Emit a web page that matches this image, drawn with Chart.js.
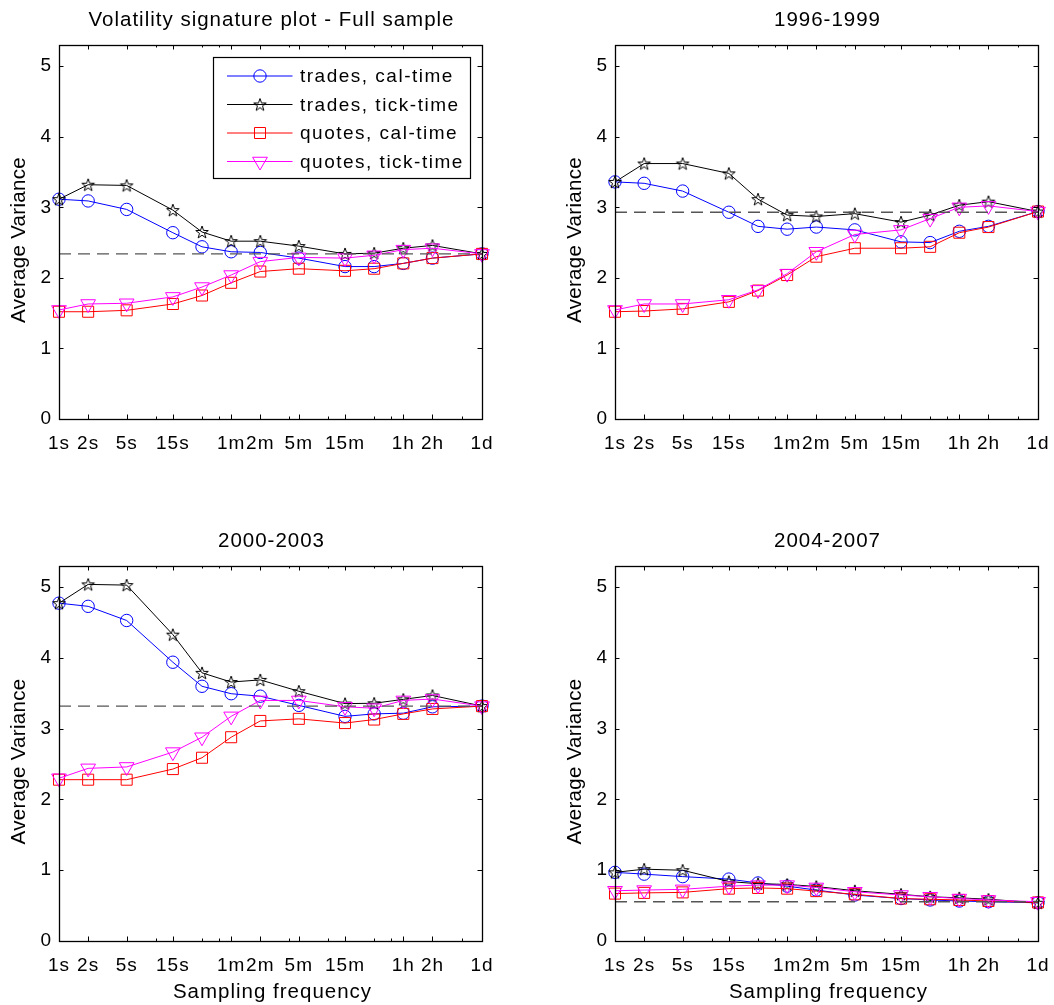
<!DOCTYPE html>
<html><head><meta charset="utf-8">
<script src="https://cdn.jsdelivr.net/npm/chart.js@4.4.1/dist/chart.umd.min.js"></script>
<style>
html,body{margin:0;padding:0;background:#fff;}
body{width:1054px;height:1005px;position:relative;overflow:hidden;}
canvas{position:absolute;}
</style></head><body>
<canvas id="c0" width="527" height="500" style="left:0;top:0"></canvas>
<canvas id="c1" width="527" height="500" style="left:527px;top:0"></canvas>
<canvas id="c2" width="527" height="505" style="left:0;top:500px"></canvas>
<canvas id="c3" width="527" height="505" style="left:527px;top:500px"></canvas>
<script>
// ---- data ----
const samplingSeconds = [1, 2, 5, 15, 30, 60, 120, 300, 900, 1800, 3600, 7200, 23400];
const tickSeconds = [1, 2, 5, 10, 15, 30, 45, 60, 120, 240, 300, 600, 900, 1800, 2700, 3600, 7200, 14400, 23400];
const tickLabels = ['1s', '2s', '5s', '', '15s', '', '', '1m', '2m', '', '5m', '', '15m', '', '', '1h', '2h', '', '1d'];
const yTickValues = [0, 1, 2, 3, 4, 5];
const panelTitles = ['Volatility signature plot - Full sample', '1996-1999', '2000-2003', '2004-2007'];
const seriesNames = ['trades, cal-time', 'trades, tick-time', 'quotes, cal-time', 'quotes, tick-time'];

const full_tradesCal  = [3.115, 3.09, 2.97, 2.64, 2.44, 2.37, 2.36, 2.28, 2.16, 2.16, 2.205, 2.28, 2.34];
const full_tradesTick = [3.115, 3.32, 3.31, 2.96, 2.65, 2.52, 2.52, 2.45, 2.34, 2.35, 2.42, 2.46, 2.34];
const full_quotesCal  = [1.52, 1.52, 1.54, 1.63, 1.75, 1.93, 2.09, 2.13, 2.10, 2.13, 2.205, 2.28, 2.34];
const full_quotesTick = [1.545, 1.63, 1.64, 1.73, 1.87, 2.04, 2.23, 2.29, 2.28, 2.32, 2.40, 2.42, 2.34];

const p9699_tradesCal  = [3.36, 3.34, 3.23, 2.93, 2.73, 2.69, 2.72, 2.68, 2.51, 2.50, 2.66, 2.73, 2.94];
const p9699_tradesTick = [3.36, 3.62, 3.62, 3.48, 3.115, 2.89, 2.87, 2.91, 2.79, 2.89, 3.03, 3.08, 2.94];
const p9699_quotesCal  = [1.52, 1.53, 1.56, 1.66, 1.82, 2.04, 2.30, 2.42, 2.42, 2.44, 2.64, 2.72, 2.94];
const p9699_quotesTick = [1.545, 1.63, 1.63, 1.69, 1.83, 2.06, 2.37, 2.615, 2.68, 2.84, 3.00, 3.02, 2.94];

const p0003_tradesCal  = [4.775, 4.73, 4.53, 3.94, 3.60, 3.495, 3.46, 3.33, 3.175, 3.21, 3.22, 3.31, 3.32];
const p0003_tradesTick = [4.775, 5.04, 5.03, 4.33, 3.79, 3.66, 3.69, 3.53, 3.355, 3.36, 3.415, 3.47, 3.32];
const p0003_quotesCal  = [2.28, 2.28, 2.28, 2.43, 2.59, 2.88, 3.11, 3.14, 3.08, 3.13, 3.21, 3.28, 3.32];
const p0003_quotesTick = [2.30, 2.44, 2.46, 2.67, 2.88, 3.175, 3.40, 3.40, 3.31, 3.29, 3.40, 3.42, 3.32];

const p0407_tradesCal  = [0.97, 0.945, 0.91, 0.875, 0.82, 0.775, 0.72, 0.65, 0.60, 0.58, 0.565, 0.555, 0.54];
const p0407_tradesTick = [0.97, 1.015, 1.00, 0.84, 0.81, 0.80, 0.77, 0.71, 0.66, 0.625, 0.61, 0.59, 0.54];
const p0407_quotesCal  = [0.67, 0.68, 0.687, 0.74, 0.75, 0.74, 0.705, 0.66, 0.60, 0.59, 0.58, 0.565, 0.545];
const p0407_quotesTick = [0.71, 0.72, 0.73, 0.775, 0.79, 0.79, 0.757, 0.696, 0.65, 0.625, 0.60, 0.58, 0.555];

const dailyLevels = [2.34, 2.93, 3.32, 0.555];

// ---- styling ----
const FONT = '"Liberation Sans", Arial, Helvetica, sans-serif';
Chart.defaults.font.family = FONT;
Chart.defaults.color = '#000';
const LETTER = '1px';

function makeStar(R, color) {
  const s = 18;
  const c = document.createElement('canvas');
  c.width = s; c.height = s;
  const g = c.getContext('2d');
  g.strokeStyle = color; g.lineWidth = 1; g.lineJoin = 'miter';
  g.beginPath();
  const cx = s / 2, cy = s / 2 + 0.6;
  for (let k = 0; k < 10; k++) {
    const r = k % 2 === 0 ? R : R * 0.4;
    const a = -Math.PI / 2 + k * Math.PI / 5;
    const px = cx + r * Math.cos(a), py = cy + r * Math.sin(a);
    if (k) g.lineTo(px, py); else g.moveTo(px, py);
  }
  g.closePath(); g.stroke();
  return c;
}
const starImg = makeStar(6.6, '#000');

const seriesStyles = [
  {color: '#0000ff', pointStyle: 'circle', radius: 6.2, rotation: 0},
  {color: '#000000', pointStyle: starImg, radius: 7, rotation: 0},
  {color: '#ff0000', pointStyle: 'rect', radius: 7.8, rotation: 0},
  {color: '#ff00ff', pointStyle: 'triangle', radius: 8.5, rotation: 180}
];

const panels = [
  {id: 'c0', series: [full_tradesCal, full_tradesTick, full_quotesCal, full_quotesTick], pad: {left: 9, right: 45, top: 45, bottom: 41}, legend: true, xlabel: false},
  {id: 'c1', series: [p9699_tradesCal, p9699_tradesTick, p9699_quotesCal, p9699_quotesTick], pad: {left: 38, right: 16, top: 45, bottom: 41}, legend: false, xlabel: false},
  {id: 'c2', series: [p0003_tradesCal, p0003_tradesTick, p0003_quotesCal, p0003_quotesTick], pad: {left: 9, right: 45, top: 66, bottom: 24}, legend: false, xlabel: true},
  {id: 'c3', series: [p0407_tradesCal, p0407_tradesTick, p0407_quotesCal, p0407_quotesTick], pad: {left: 38, right: 16, top: 66, bottom: 24}, legend: false, xlabel: true}
];

function drawMarker(ctx, st, x, y) {
  ctx.save();
  ctx.strokeStyle = st.color; ctx.lineWidth = 1;
  if (typeof st.pointStyle === 'object') {
    ctx.drawImage(st.pointStyle, x - st.pointStyle.width / 2, y - st.pointStyle.height / 2);
  } else {
    ctx.beginPath();
    if (st.pointStyle === 'circle') {
      ctx.arc(x, y, st.radius, 0, Math.PI * 2);
    } else if (st.pointStyle === 'rect') {
      const h = st.radius * Math.SQRT1_2;
      ctx.rect(x - h, y - h, 2 * h, 2 * h);
    } else if (st.pointStyle === 'triangle') {
      const r = st.radius;
      ctx.moveTo(x, y + r);
      ctx.lineTo(x - r * Math.sin(Math.PI / 3), y - r / 2);
      ctx.lineTo(x + r * Math.sin(Math.PI / 3), y - r / 2);
      ctx.closePath();
    }
    ctx.stroke();
  }
  ctx.restore();
}

const framePlugin = {
  id: 'matlabFrame',
  beforeDraw(chart) {
    chart.ctx.letterSpacing = LETTER;
  },
  afterDraw(chart, args, opts) {
    const ctx = chart.ctx;
    const a = chart.chartArea;
    const xs = chart.scales.x, ys = chart.scales.y;
    ctx.save();
    ctx.letterSpacing = LETTER;
    // box
    ctx.strokeStyle = '#000';
    ctx.lineWidth = 1.3;
    ctx.strokeRect(Math.round(a.left) + 0.5, Math.round(a.top) + 0.5, Math.round(a.right - a.left), Math.round(a.bottom - a.top));
    // inside tick marks
    ctx.lineWidth = 1;
    ctx.beginPath();
    xs.ticks.forEach((t, i) => {
      const px = Math.round(xs.getPixelForValue(t.value)) + 0.5;
      const len = tickLabels[i] ? 4.5 : 2.5;
      ctx.moveTo(px, a.bottom); ctx.lineTo(px, a.bottom - len);
      ctx.moveTo(px, a.top); ctx.lineTo(px, a.top + len);
    });
    ys.ticks.forEach(t => {
      const py = Math.round(ys.getPixelForValue(t.value)) + 0.5;
      ctx.moveTo(a.left, py); ctx.lineTo(a.left + 4.5, py);
      ctx.moveTo(a.right, py); ctx.lineTo(a.right - 4.5, py);
    });
    ctx.stroke();
    // title
    ctx.fillStyle = '#000';
    ctx.font = '20.5px ' + FONT;
    ctx.textAlign = 'center';
    ctx.textBaseline = 'middle';
    ctx.fillText(opts.title, (a.left + a.right) / 2 + 1, a.top - 24.5);
    // y label
    ctx.save();
    ctx.letterSpacing = '0.3px';
    ctx.translate(a.left - 40, (a.top + a.bottom) / 2 + 8);
    ctx.rotate(-Math.PI / 2);
    ctx.fillText('Average Variance', 0, 0);
    ctx.restore();
    // x label
    if (opts.xlabel) {
      ctx.fillText('Sampling frequency', (a.left + a.right) / 2 + 2, a.bottom + 51);
    }
    // legend
    if (opts.legend) {
      const bw = 257, bh = 121;
      const bx = Math.round(a.right - 12 - bw) + 0.5, by = Math.round(a.top + 12) + 0.5;
      ctx.fillStyle = '#fff';
      ctx.fillRect(bx, by, bw, bh);
      ctx.strokeStyle = '#000';
      ctx.lineWidth = 1.2;
      ctx.strokeRect(bx, by, bw, bh);
      ctx.font = '19px ' + FONT;
      ctx.letterSpacing = '1.5px';
      ctx.textAlign = 'left';
      ctx.textBaseline = 'middle';
      ctx.lineWidth = 1;
      seriesNames.forEach((name, i) => {
        const st = seriesStyles[i];
        const ry = by + 18.5 + i * 28.5;
        ctx.strokeStyle = st.color;
        ctx.beginPath();
        ctx.moveTo(bx + 13.5, ry); ctx.lineTo(bx + 79, ry);
        ctx.stroke();
        drawMarker(ctx, st, bx + 46.5, ry);
        ctx.fillStyle = '#000';
        ctx.fillText(name, bx + 86.5, ry + 1);
      });
    }
    ctx.restore();
  }
};

panels.forEach((p, pi) => {
  const datasets = p.series.map((vals, si) => {
    const st = seriesStyles[si];
    return {
      label: seriesNames[si],
      data: samplingSeconds.map((s, k) => ({x: s, y: vals[k]})),
      borderColor: st.color,
      backgroundColor: 'rgba(0,0,0,0)',
      pointBorderColor: st.color,
      pointBackgroundColor: 'rgba(0,0,0,0)',
      pointStyle: st.pointStyle,
      pointRadius: st.radius,
      pointRotation: st.rotation,
      pointBorderWidth: 1,
      borderWidth: 1,
      tension: 0,
      fill: false,
      clip: false,
      order: 4 - si
    };
  });
  datasets.push({
    label: 'daily',
    data: [{x: samplingSeconds[0], y: dailyLevels[pi]}, {x: samplingSeconds[samplingSeconds.length - 1], y: dailyLevels[pi]}],
    borderColor: '#555555',
    borderWidth: 1.4,
    borderDash: [12, 7],
    pointRadius: 0,
    fill: false,
    clip: false,
    order: 0
  });
  new Chart(document.getElementById(p.id), {
    type: 'line',
    data: {datasets},
    options: {
      responsive: false,
      animation: false,
      events: [],
      layout: {padding: p.pad},
      plugins: {
        legend: {display: false},
        tooltip: {enabled: false},
        title: {display: false},
        matlabFrame: {title: panelTitles[pi], legend: p.legend, xlabel: p.xlabel}
      },
      scales: {
        x: {
          type: 'logarithmic',
          min: samplingSeconds[0],
          max: samplingSeconds[samplingSeconds.length - 1],
          grid: {display: false, drawTicks: false},
          border: {display: false},
          afterBuildTicks: s => { s.ticks = tickSeconds.map(v => ({value: v})); },
          afterFit: s => { s.height = 40; s.paddingLeft = 0; s.paddingRight = 0; },
          ticks: {
            autoSkip: false, maxRotation: 0, minRotation: 0, padding: 13,
            font: {size: 19}, color: '#000',
            callback: (v, i) => tickLabels[i]
          }
        },
        y: {
          type: 'linear',
          min: 0, max: 5.3,
          grid: {display: false, drawTicks: false},
          border: {display: false},
          afterBuildTicks: s => { s.ticks = yTickValues.map(v => ({value: v})); },
          afterFit: s => { s.width = 50; s.paddingTop = 0; s.paddingBottom = 0; },
          ticks: {padding: 7, font: {size: 19}, color: '#000', callback: v => String(v)}
        }
      }
    },
    plugins: [framePlugin]
  });
});
</script>
</body></html>
